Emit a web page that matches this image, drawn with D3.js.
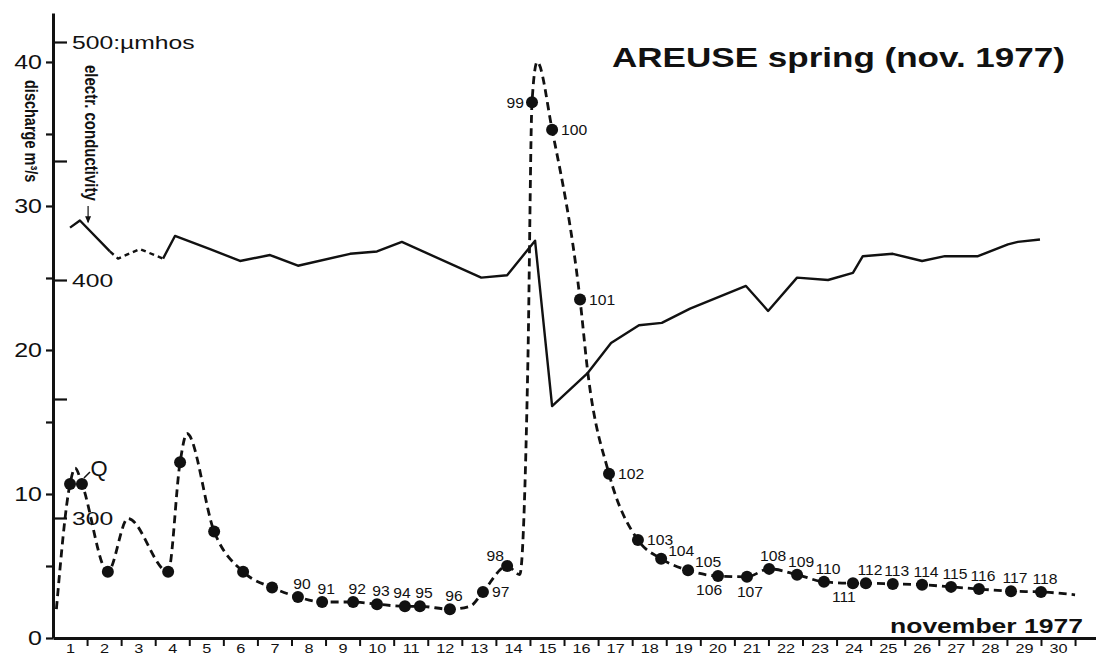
<!DOCTYPE html>
<html>
<head>
<meta charset="utf-8">
<script src="https://cdn.jsdelivr.net/npm/d3@7"></script>
<style>
  body { margin: 0; background: #fff; }
  svg { display: block; font-family: "Liberation Sans", Arial, Helvetica, sans-serif; }
</style>
</head>
<body>
<div id="chart"></div>
<script>
// day numbers along the bottom axis
const dayLabels = [1, 2, 3, 4, 5, 6, 7, 8, 9, 10, 11, 12, 13, 14, 15,
  16, 17, 18, 19, 20, 21, 22, 23, 24, 25, 26, 27, 28, 29, 30];
const dischargeTicks = [0, 5, 10, 15, 20, 25, 30, 35, 40];
const dischargeLabels = [0, 10, 20, 30, 40];
const conductivityTicks = [300, 350, 400, 450, 500];

// discharge curve (m3/s), time in days since start of nov. 1
// sample: null = curve only, '' = sample without number
const qDay = [0.1, 0.5, 0.65, 0.85, 1.61, 2.2, 3.38, 3.73, 3.93, 4.73, 5.58, 6.43,
  7.19, 7.9, 8.81, 9.51, 10.33, 10.77, 11.65, 12.24, 12.62, 13.33, 13.7, 13.94,
  14.06, 14.21, 14.65, 15.47, 15.7, 16.32, 17.17, 17.85, 18.64, 19.52, 20.37,
  21.02, 21.84, 22.63, 23.48, 23.86, 24.65, 25.51, 26.36, 27.18, 28.12, 29.0, 30.0];
const qValue = [2.0, 10.7, 11.8, 10.7, 4.6, 8.3, 4.6, 12.2, 14.2, 7.4, 4.6, 3.5,
  2.85, 2.5, 2.5, 2.35, 2.2, 2.2, 2.0, 2.2, 3.2, 5.0, 4.4, 19.3,
  37.2, 40.0, 35.3, 23.5, 18.4, 11.4, 6.8, 5.5, 4.7, 4.3, 4.25,
  4.8, 4.4, 3.9, 3.8, 3.8, 3.75, 3.7, 3.55, 3.4, 3.25, 3.2, 3.0];
const qSample = [null, '', null, '', '', null, '', '', null, '', '', '',
  '90', '91', '92', '93', '94', '95', '96', null, '97', '98', null, null,
  '99', null, '100', '101', null, '102', '103', '104', '105', '106', '107',
  '108', '109', '110', '111', '112', '113', '114', '115', '116', '117', '118', null];
// where each sample number sits, for samples 90..118
const labelSide = ['above', 'above', 'above', 'above', 'aboveleft', 'above', 'above',
  'right', 'upleft', 'left', 'right', 'right', 'right', 'right', 'upright', 'upright',
  'belowleft', 'below', 'above', 'above', 'above', 'belowleft', 'above', 'above',
  'above', 'above', 'above', 'above', 'above'];

// electrical conductivity (umhos)
const condDay = [0.5, 0.79, 1.67, 1.91, 2.55, 3.23, 3.58, 4.61, 5.49, 6.37, 7.19,
  8.72, 9.51, 10.24, 12.57, 13.33, 14.15, 14.65, 15.7, 16.38, 17.2, 17.87, 18.7,
  20.34, 20.99, 21.84, 22.75, 23.48, 23.77, 24.65, 25.51, 26.18, 27.15, 28.03,
  28.32, 28.97];
const condValue = [422, 425, 412, 409, 413, 409, 418.5, 413, 408, 410.5, 406,
  411, 412, 416, 401, 402, 416.5, 347, 361, 373.5, 381, 382, 388,
  397.5, 387, 401, 400, 403, 410, 411, 408, 410, 410, 415, 416, 417];
const condGapStart = 1.67; // dashed (interpolated) part
const condGapEnd = 3.23;

const width = 1104;
const height = 655;
const ink = '#111';

const svg = d3.select('#chart')
  .append('svg')
  .attr('width', width)
  .attr('height', height);

const x = d3.scaleLinear().domain([0, 30.6]).range([53, 1095.5]);
const yQ = d3.scaleLinear().domain([0, 43.4]).range([638, 13]);
const yC = d3.scaleLinear().domain([300, 500]).range([518, 42]);

// the scan is stretched sideways, so stretch the text too
const stretch = (sel, sx) => sel.each(function () {
  const t = d3.select(this);
  const x0 = +t.attr('x') || 0;
  const y0 = +t.attr('y') || 0;
  t.attr('x', 0).attr('y', 0)
    .attr('transform', `translate(${x0},${y0}) scale(${sx},1)`);
});

// x axis: ticks at day boundaries, numbers in between
const xAxis = svg.append('g')
  .attr('transform', `translate(0,${yQ(0)})`)
  .call(d3.axisBottom(x).tickValues(dayLabels).tickSize(8).tickSizeOuter(0).tickFormat(''));
xAxis.select('.domain').attr('stroke', ink).attr('stroke-width', 2.8);
xAxis.selectAll('line').attr('stroke', ink).attr('stroke-width', 2);

const xLabels = svg.append('g')
  .attr('transform', `translate(0,${yQ(0)})`)
  .call(d3.axisBottom(x).tickValues(dayLabels.map(d => d - 0.5))
    .tickSize(0).tickPadding(6).tickFormat(d => d + 0.5));
xLabels.select('.domain').remove();
xLabels.selectAll('text').attr('font-size', 13).attr('fill', ink);
stretch(xLabels.selectAll('text'), 1.25);

// discharge axis on the left
const qAxis = svg.append('g')
  .attr('transform', `translate(${x(0)},0)`)
  .call(d3.axisLeft(yQ).tickValues(dischargeTicks).tickSize(7).tickSizeOuter(0)
    .tickPadding(4).tickFormat(d => dischargeLabels.includes(d) ? d : ''));
qAxis.select('.domain').attr('stroke', ink).attr('stroke-width', 3);
qAxis.selectAll('line').attr('stroke', ink).attr('stroke-width', 2.2);
qAxis.selectAll('text').attr('font-size', 20).attr('fill', ink);
stretch(qAxis.selectAll('text'), 1.25);

// conductivity ticks on the right side of the same line
const cAxis = svg.append('g')
  .attr('transform', `translate(${x(0)},0)`)
  .call(d3.axisRight(yC).tickValues(conductivityTicks).tickSize(14).tickSizeOuter(0)
    .tickPadding(5).tickFormat(d => d === 500 ? '500:\u00b5mhos' : (d % 100 === 0 ? d : '')));
cAxis.select('.domain').remove();
cAxis.selectAll('line').attr('stroke', ink).attr('stroke-width', 2.2);
cAxis.selectAll('text').attr('font-size', 19).attr('fill', ink);
stretch(cAxis.selectAll('text'), 1.3);

// conductivity line, dashed where interpolated
const cPoints = condDay.map((d, i) => ({ day: d, c: condValue[i] }));
const cLine = d3.line().x(d => x(d.day)).y(d => yC(d.c));
const cParts = [
  { pts: cPoints.filter(p => p.day <= condGapStart), dash: null },
  { pts: cPoints.filter(p => p.day >= condGapStart && p.day <= condGapEnd), dash: '5,4' },
  { pts: cPoints.filter(p => p.day >= condGapEnd), dash: null },
];
svg.append('g')
  .selectAll('path')
  .data(cParts)
  .join('path')
  .attr('d', d => cLine(d.pts))
  .attr('fill', 'none')
  .attr('stroke', ink)
  .attr('stroke-width', 2.4)
  .attr('stroke-linejoin', 'round')
  .attr('stroke-dasharray', d => d.dash);

// discharge curve
const qPoints = qDay.map((d, i) => ({ day: d, q: qValue[i], sample: qSample[i] }));
const qLine = d3.line().x(d => x(d.day)).y(d => yQ(d.q)).curve(d3.curveMonotoneX);
svg.append('path')
  .datum(qPoints)
  .attr('d', qLine)
  .attr('fill', 'none')
  .attr('stroke', ink)
  .attr('stroke-width', 2.8)
  .attr('stroke-dasharray', '8,5');

const samples = qPoints.filter(d => d.sample !== null);
svg.append('g')
  .attr('fill', ink)
  .selectAll('circle')
  .data(samples)
  .join('circle')
  .attr('cx', d => x(d.day))
  .attr('cy', d => yQ(d.q))
  .attr('r', 6);

// sample numbers
const place = {
  above: { dx: 4, dy: -8, anchor: 'middle' },
  aboveleft: { dx: -3, dy: -8, anchor: 'middle' },
  right: { dx: 9, dy: 5, anchor: 'start' },
  left: { dx: -8, dy: 6, anchor: 'end' },
  upright: { dx: 7, dy: -3, anchor: 'start' },
  upleft: { dx: -12, dy: -5, anchor: 'middle' },
  belowleft: { dx: -9, dy: 19, anchor: 'middle' },
  below: { dx: 3, dy: 20, anchor: 'middle' },
};
const numbered = samples.filter(d => d.sample);
const numText = svg.append('g')
  .attr('font-size', 14)
  .attr('fill', ink)
  .selectAll('text')
  .data(numbered)
  .join('text')
  .attr('x', (d, i) => x(d.day) + place[labelSide[i]].dx)
  .attr('y', (d, i) => yQ(d.q) + place[labelSide[i]].dy)
  .attr('text-anchor', (d, i) => place[labelSide[i]].anchor)
  .text(d => d.sample);
stretch(numText, 1.12);

// "Q" tag on the first peak
const qTag = qPoints[3];
svg.append('line')
  .attr('x1', x(qTag.day) + 2).attr('y1', yQ(qTag.q) - 6)
  .attr('x2', x(qTag.day) + 8).attr('y2', yQ(qTag.q) - 12)
  .attr('stroke', ink).attr('stroke-width', 1.5);
svg.append('text')
  .attr('x', x(qTag.day) + 17)
  .attr('y', yQ(qTag.q) - 8)
  .attr('text-anchor', 'middle')
  .attr('font-size', 22)
  .attr('fill', ink)
  .text('Q');

// axis titles, written downwards
svg.append('text')
  .attr('transform', 'translate(25,80) rotate(90) scale(1,1.25)')
  .attr('font-size', 14.5)
  .attr('font-weight', 'bold')
  .attr('fill', ink)
  .text('discharge m\u00b3/s');

svg.append('text')
  .attr('transform', 'translate(85,65) rotate(90) scale(1,1.25)')
  .attr('font-size', 15)
  .attr('font-weight', 'bold')
  .attr('fill', ink)
  .text('electr. conductivity');

// small arrow from the label to the conductivity line
const arrowX = x(1.03);
svg.append('line')
  .attr('x1', arrowX).attr('y1', 206)
  .attr('x2', arrowX).attr('y2', yC(423) - 3)
  .attr('stroke', ink).attr('stroke-width', 1.2);
svg.append('path')
  .attr('d', `M${arrowX - 3},${yC(423) - 9}L${arrowX},${yC(423) - 2}L${arrowX + 3},${yC(423) - 9}Z`)
  .attr('fill', ink);

// titles
svg.append('text')
  .attr('x', 612)
  .attr('y', 67)
  .attr('font-size', 28)
  .attr('font-weight', 'bold')
  .attr('fill', ink)
  .attr('textLength', 453)
  .attr('lengthAdjust', 'spacingAndGlyphs')
  .text('AREUSE spring (nov. 1977)');

svg.append('text')
  .attr('x', 890)
  .attr('y', 633)
  .attr('font-size', 21)
  .attr('font-weight', 'bold')
  .attr('fill', ink)
  .attr('textLength', 193)
  .attr('lengthAdjust', 'spacingAndGlyphs')
  .text('november 1977');
</script>
</body>
</html>
